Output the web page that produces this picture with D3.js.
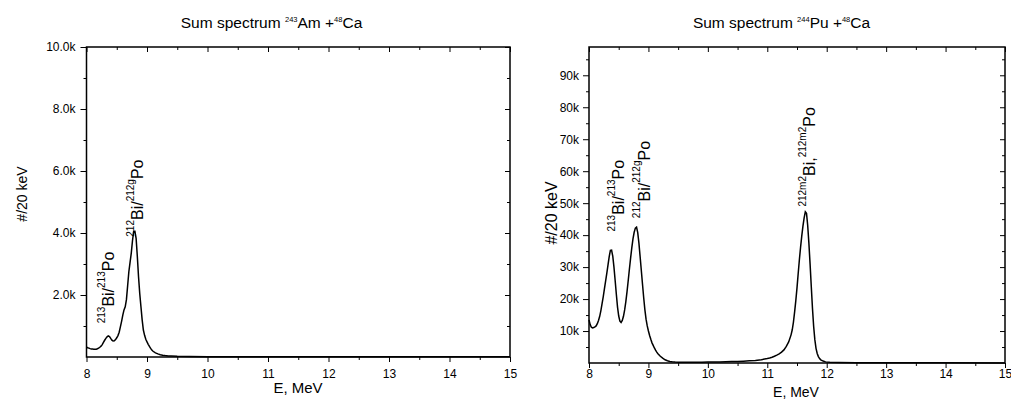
<!DOCTYPE html>
<html><head><meta charset="utf-8">
<script src="https://cdn.jsdelivr.net/npm/d3@7"></script>
<style>
body{margin:0;background:#fff;}
svg{display:block;}
text{font-family:"Liberation Sans",Arial,sans-serif;fill:#000;}
</style>
</head><body>
<svg id="chart" width="1011" height="411"></svg>
<script>
// ---------- data ----------
const xTicks = [8, 9, 10, 11, 12, 13, 14, 15];
const xMinorTicks = [8.5, 9.5, 10.5, 11.5, 12.5, 13.5, 14.5];

const amYTicks = [2000, 4000, 6000, 8000, 10000];
const amYTickLabels = ["2.0k", "4.0k", "6.0k", "8.0k", "10.0k"];
const amYMinorTicks = [1000, 3000, 5000, 7000, 9000];

const puYTicks = [10000, 20000, 30000, 40000, 50000, 60000, 70000, 80000, 90000];
const puYTickLabels = ["10k", "20k", "30k", "40k", "50k", "60k", "70k", "80k", "90k"];
const puYMinorTicks = [5000, 15000, 25000, 35000, 45000, 55000, 65000, 75000, 85000, 95000];

// 243Am + 48Ca sum spectrum (energy in MeV, counts per 20 keV)
const amEnergy = [8.00, 8.02, 8.04, 8.06, 8.08, 8.10, 8.12, 8.14, 8.16, 8.18, 8.20, 8.22, 8.24, 8.26, 8.28, 8.30,
  8.32, 8.34, 8.36, 8.38, 8.40, 8.42, 8.44, 8.46, 8.48, 8.50, 8.52, 8.54, 8.56, 8.58, 8.60, 8.62, 8.64, 8.66,
  8.68, 8.70, 8.72, 8.74, 8.76, 8.78, 8.80, 8.82, 8.84, 8.86, 8.88, 8.90, 8.92, 8.94, 8.96, 8.98, 9.00, 9.02,
  9.04, 9.06, 9.08, 9.10, 9.14, 9.18, 9.22, 9.26, 9.30, 9.35, 9.40, 9.50, 9.70, 10.0, 11.0, 12.0, 13.0, 14.0, 15.0];
const amCounts = [320, 300, 285, 270, 260, 255, 250, 248, 252, 265, 285, 315, 350, 400, 470, 540,
  600, 650, 680, 660, 600, 545, 515, 520, 560, 620, 690, 800, 970, 1150, 1350, 1520, 1620, 1850,
  2300, 2750, 3050, 3350, 3750, 4060, 4060, 3830, 3250, 2590, 2050, 1620, 1200, 870, 700, 570, 490, 410,
  340, 280, 225, 185, 135, 100, 75, 58, 46, 36, 30, 22, 15, 12, 10, 8, 6, 5, 5];

// 244Pu + 48Ca sum spectrum
const puEnergy = [8.00, 8.02, 8.04, 8.06, 8.08, 8.10, 8.12, 8.14, 8.16, 8.18, 8.20, 8.22, 8.24, 8.26, 8.28, 8.30,
  8.32, 8.34, 8.36, 8.38, 8.40, 8.42, 8.44, 8.46, 8.48, 8.50, 8.52, 8.54, 8.56, 8.58, 8.60, 8.62, 8.64, 8.66,
  8.68, 8.70, 8.72, 8.74, 8.76, 8.78, 8.80, 8.82, 8.84, 8.86, 8.88, 8.90, 8.92, 8.94, 8.96, 8.98, 9.00, 9.02,
  9.04, 9.06, 9.08, 9.10, 9.12, 9.14, 9.16, 9.18, 9.20, 9.24, 9.28, 9.32, 9.36, 9.40, 9.45, 9.50, 9.60, 9.70,
  9.80, 9.90, 10.0, 10.1, 10.2, 10.3, 10.4, 10.5, 10.6, 10.7, 10.8, 10.9, 11.00, 11.04, 11.08, 11.12, 11.16,
  11.20, 11.24, 11.28, 11.32, 11.36, 11.40, 11.42, 11.44, 11.46, 11.48, 11.50, 11.52, 11.54, 11.56, 11.58,
  11.60, 11.62, 11.64, 11.66, 11.68, 11.70, 11.72, 11.74, 11.76, 11.78, 11.80, 11.82, 11.84, 11.86, 11.88,
  11.90, 11.94, 11.98, 12.05, 12.2, 12.5, 13.0, 14.0, 15.0];
const puCounts = [13500, 12000, 11200, 11000, 11100, 11300, 11600, 12300, 13300, 14600, 16400, 18600, 20800, 23300, 25700, 28100,
  30700, 33300, 35200, 35300, 33400, 30000, 25800, 21500, 17500, 14700, 13100, 12700, 13300, 14600, 16600, 19200, 22300, 25800,
  29400, 32800, 36000, 38800, 40900, 42200, 42500, 40800, 37500, 33300, 29000, 24700, 20500, 16700, 13700, 11600, 10000, 8600,
  7400, 6300, 5500, 4700, 4000, 3400, 2900, 2500, 2100, 1500, 1000, 700, 500, 380, 300, 260, 230, 230,
  240, 250, 280, 310, 350, 390, 440, 500, 580, 680, 820, 1050, 1400, 1560, 1800, 2100, 2450,
  2850, 3400, 4100, 5200, 6600, 8800, 10400, 12800, 16000, 19500, 23500, 28000, 32300, 36200, 39700,
  42800, 45400, 47300, 46800, 43000, 37500, 31000, 24000, 17200, 11500, 7300, 4600, 3000, 2000, 1400,
  1000, 600, 350, 200, 120, 80, 60, 40, 30];

// peak annotations: rich-text parts, anchored at (energy, counts)
const amPeakLabels = [
  [["213", true], ["Bi/", false], ["213", true], ["Po", false]],
  [["212", true], ["Bi/", false], ["212g", true], ["Po", false]]
];
const amPeakAnchorE = [8.455, 8.939];
const amPeakAnchorC = [1087, 3881];

const puPeakLabels = [
  [["213", true], ["Bi/", false], ["213", true], ["Po", false]],
  [["212", true], ["Bi/", false], ["212g", true], ["Po", false]],
  [["212m2", true], ["Bi,", false], ["212m2", true], ["Po", false]]
];
const puPeakAnchorE = [8.589, 9.026, 11.803];
const puPeakAnchorC = [41125, 45312, 48937];

const amTitle = [["Sum spectrum ", false], ["243", true], ["Am +", false], ["48", true], ["Ca", false]];
const puTitle = [["Sum spectrum ", false], ["244", true], ["Pu +", false], ["48", true], ["Ca", false]];

// ---------- drawing ----------
const svg = d3.select("#chart");

function richText(sel, parts, mainSize, supSize, raise) {
  let shift = 0;
  parts.forEach(([t, sup]) => {
    const target = sup ? -raise : 0;
    sel.append("tspan")
      .attr("font-size", sup ? supSize : mainSize)
      .attr("dy", target - shift)
      .text(t);
    shift = target;
  });
}

function panel(cfg) {
  const x = d3.scaleLinear().domain([8, 15]).range([cfg.left, cfg.right]);
  const y = d3.scaleLinear().domain([0, cfg.yMax]).range([cfg.bottom, cfg.top]);
  const g = svg.append("g");

  const tickStyle = s => {
    s.select(".domain").remove();
    s.selectAll(".tick line").attr("stroke", "#000").attr("stroke-width", 1);
    s.selectAll(".tick text").attr("font-size", 12).attr("font-family", '"Liberation Sans", Arial, sans-serif').attr("fill", "#000");
  };

  // bottom (outward, labelled)
  g.append("g").attr("transform", `translate(0,${cfg.bottom})`)
    .call(d3.axisBottom(x).tickValues(xTicks).tickSize(5).tickPadding(cfg.xPad).tickFormat(d3.format("d")))
    .call(tickStyle);
  g.append("g").attr("transform", `translate(0,${cfg.bottom})`)
    .call(d3.axisBottom(x).tickValues(xMinorTicks).tickSize(3).tickFormat(""))
    .call(tickStyle);
  // top (inward)
  g.append("g").attr("transform", `translate(0,${cfg.top})`)
    .call(d3.axisBottom(x).tickValues(xTicks).tickSize(5).tickFormat(""))
    .call(tickStyle);
  g.append("g").attr("transform", `translate(0,${cfg.top})`)
    .call(d3.axisBottom(x).tickValues(xMinorTicks).tickSize(3).tickFormat(""))
    .call(tickStyle);
  // left (outward, labelled)
  g.append("g").attr("transform", `translate(${cfg.left},0)`)
    .call(d3.axisLeft(y).tickValues(cfg.yTicks).tickSize(6).tickPadding(cfg.yPad)
      .tickFormat((d, i) => cfg.yLabels[i]))
    .call(tickStyle);
  g.append("g").attr("transform", `translate(${cfg.left},0)`)
    .call(d3.axisLeft(y).tickValues(cfg.yMinor).tickSize(3).tickFormat(""))
    .call(tickStyle);
  // right (inward)
  g.append("g").attr("transform", `translate(${cfg.right},0)`)
    .call(d3.axisLeft(y).tickValues(cfg.yTicks).tickSize(5).tickFormat(""))
    .call(tickStyle);
  g.append("g").attr("transform", `translate(${cfg.right},0)`)
    .call(d3.axisLeft(y).tickValues(cfg.yMinor).tickSize(3).tickFormat(""))
    .call(tickStyle);

  // spectrum line
  const pts = cfg.energy.map((e, i) => [e, cfg.counts[i]]);
  g.append("path")
    .datum(pts)
    .attr("fill", "none")
    .attr("stroke", "#000")
    .attr("stroke-width", 1.5)
    .attr("stroke-linejoin", "miter")
    .attr("d", d3.line().x(d => x(d[0])).y(d => y(d[1])).curve(d3.curveLinear));

  // frame
  g.append("rect")
    .attr("x", cfg.left).attr("y", cfg.top)
    .attr("width", cfg.right - cfg.left).attr("height", cfg.bottom - cfg.top)
    .attr("fill", "none").attr("stroke", "#000").attr("stroke-width", 1.5);

  // title
  const t = g.append("text").attr("x", cfg.titleX).attr("y", 27.5).attr("text-anchor", "middle");
  richText(t, cfg.title, 15.5, 7.5, 6);

  // x label
  g.append("text").attr("x", cfg.xLabX).attr("y", cfg.xLabY).attr("text-anchor", "middle")
    .attr("font-size", cfg.xLabSize).text("E, MeV");
  // y label
  g.append("text").attr("transform", `translate(${cfg.yLabX},${cfg.yLabY}) rotate(-90)`)
    .attr("text-anchor", "middle").attr("font-size", cfg.yLabSize).text("#/20 keV");

  // peak annotations
  cfg.peaks.forEach((parts, i) => {
    const a = g.append("text")
      .attr("transform", `translate(${x(cfg.peakE[i])},${y(cfg.peakC[i])}) rotate(-90)`)
      .attr("text-anchor", "start");
    richText(a, parts, 16, 10, 9.5);
  });
}

panel({
  left: 86.5, right: 510, top: 47, bottom: 357, yMax: 10000,
  yTicks: amYTicks, yLabels: amYTickLabels, yMinor: amYMinorTicks,
  xPad: 7, yPad: 5,
  energy: amEnergy, counts: amCounts,
  title: amTitle, titleX: 271.5,
  xLabX: 298, xLabY: 393, xLabSize: 15,
  yLabX: 26.5, yLabY: 194, yLabSize: 14,
  peaks: amPeakLabels, peakE: amPeakAnchorE, peakC: amPeakAnchorC
});

panel({
  left: 589, right: 1005, top: 47, bottom: 363, yMax: 98850,
  yTicks: puYTicks, yLabels: puYTickLabels, yMinor: puYMinorTicks,
  xPad: 1, yPad: 4,
  energy: puEnergy, counts: puCounts,
  title: puTitle, titleX: 781.5,
  xLabX: 796, xLabY: 397, xLabSize: 14,
  yLabX: 556.5, yLabY: 213, yLabSize: 16,
  peaks: puPeakLabels, peakE: puPeakAnchorE, peakC: puPeakAnchorC
});
</script>
</body></html>
